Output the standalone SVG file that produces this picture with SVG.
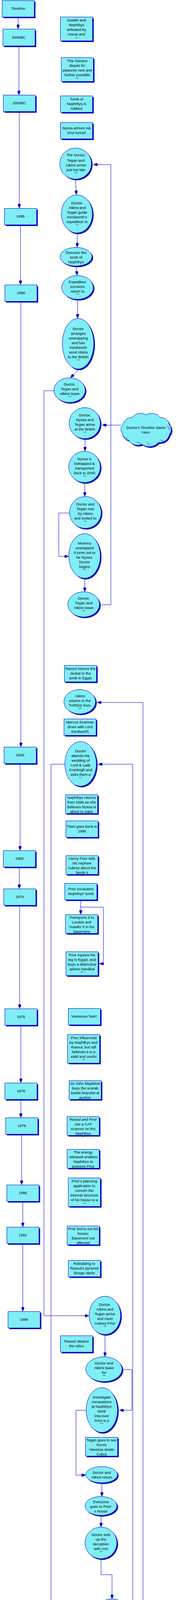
<svg xmlns="http://www.w3.org/2000/svg" width="460" height="4813" viewBox="0 0 460 4813">
<style>
.box{fill:url(#dith);stroke:#0000CC;stroke-width:1}
.sh{fill:#0000B4}
.t{font-family:"Liberation Sans",Arial,sans-serif;font-size:9.5px;fill:#000;text-anchor:middle}
.d{font-weight:bold}
.c{fill:none;stroke:#0000CC;stroke-width:1;marker-end:url(#ah)}
.cr{fill:none;stroke:#0000CC;stroke-width:1}
</style>
<defs>
<pattern id="dith" width="2" height="2" patternUnits="userSpaceOnUse"><rect width="2" height="2" fill="#ffffff"/><rect width="1" height="1" fill="#00DDEE"/><rect x="1" y="1" width="1" height="1" fill="#00DDEE"/></pattern>
<marker id="ah" viewBox="0 0 11 7" refX="11" refY="3.5" markerWidth="11" markerHeight="7" markerUnits="userSpaceOnUse" orient="auto"><path d="M0,0 L4,0 L11,3.5 L4,7 L0,7 Z" fill="#0000CC"/></marker>
</defs>
<rect width="460" height="4813" fill="#ffffff"/>

<g id="connectors">
<path class="c" d="M46.3,43.5 V74"/>
<path class="c" d="M48.3,117.5 V243"/>
<path class="c" d="M49.3,285.5 V533"/>
<path class="c" d="M52.3,575.5 V729"/>
<path class="c" d="M53.3,771.5 V1912"/>
<path class="c" d="M51.3,1954.5 V2177"/>
<path class="c" d="M49.3,2219.5 V2275"/>
<path class="c" d="M50.3,2317.5 V2582"/>
<path class="c" d="M53.3,2624.5 V2772"/>
<path class="c" d="M53.3,2814.5 V2861"/>
<path class="c" d="M55.3,2903.5 V3033"/>
<path class="c" d="M58.3,3075.5 V3141"/>
<path class="c" d="M58.3,3183.5 V3357"/>
<path class="c" d="M193.3,461 L195,498.5"/>
<path class="c" d="M197.3,599 V633"/>
<path class="c" d="M194.3,684 L197.3,705"/>
<path class="c" d="M198.3,769 V815"/>
<path class="c" d="M200,947.5 L180,967"/>
<path class="c" d="M137.7,1000.3 H112.3 V3368.3 H227.5"/>
<path class="c" d="M258.7,1548.3 H283.3 V421.3 H238.5"/>
<path class="c" d="M309,1088.3 H261"/>
<path class="c" d="M217.3,1126 V1155"/>
<path class="c" d="M216.7,1238 V1271"/>
<path class="c" d="M177.7,1313.3 H150.3 V1424.3 H175.5"/>
<path class="c" d="M216.7,1483 V1515"/>
<path class="c" d="M356,4784.3 H365.3 V1798.3 H248.3"/>
<path class="c" d="M330,4126.3 H339.3 V1956.3 H250.7"/>
<path class="c" d="M165.7,1956.3 H130.3 V4225.3 H155.5"/>
<path class="c" d="M206.3,2303.5 V2341"/>
<path class="c" d="M206.3,2322.3 H264.3 V2467 H254"/>
<path class="c" d="M268.3,3419.3 V3473"/>
<path class="c" d="M315,3506 H337 V3610.3 H305"/>
<path class="c" d="M220,3610.3 H194.3 V3776.3 H219.3"/>
<path class="c" d="M260.3,3799 V3831"/>
<path class="c" d="M258.3,3882.3 V3909.3"/>
<path class="c" d="M258.3,3993.3 V4031.3 H286.3 V4093.3"/>
<path class="c" d="M196.3,4266.7 V4281.7 H248.3 V4299.3"/>
<path class="c" d="M249,4365.7 V4401.3"/>
<path class="c" d="M250.3,4484.7 V4515"/>
<path class="c" d="M252.3,4566 V4595.7"/>
<path class="c" d="M252.3,4638.3 V4671"/>
<path class="c" d="M252.3,4721.7 V4739.3 H312.3 V4759.3"/>
</g>

<!-- Timeline column -->
<g id="timeline"><rect class="sh" x="8.5" y="4.5" width="82" height="42"/><rect class="box" x="5.5" y="1.5" width="82" height="42"/><text class="t" x="46.5" y="25">Timeline</text></g>
<g id="y5000bc"><rect class="sh" x="10.5" y="77.5" width="82" height="43"/><rect class="box" x="7.5" y="74.5" width="82" height="43"/><text class="t" x="48.5" y="99">5000BC</text></g>
<g id="y2000bc"><rect class="sh" x="11.5" y="246.5" width="82" height="42"/><rect class="box" x="8.5" y="243.5" width="82" height="42"/><text class="t" x="49.5" y="267">2000BC</text></g>
<g id="y1895"><rect class="sh" x="14.5" y="536.5" width="82" height="42"/><rect class="box" x="11.5" y="533.5" width="82" height="42"/><text class="t" x="52.5" y="556.6">1895</text></g>
<g id="y1896"><rect class="sh" x="15.5" y="732.5" width="82" height="42"/><rect class="box" x="12.5" y="729.5" width="82" height="42"/><text class="t" x="53.5" y="752.6">1896</text></g>
<g id="y1926"><rect class="sh" x="13.5" y="1915.5" width="82" height="42"/><rect class="box" x="10.5" y="1912.5" width="82" height="42"/><text class="t" x="51.5" y="1935.6">1926</text></g>
<g id="y1960"><rect class="sh" x="11.5" y="2180.5" width="82" height="42"/><rect class="box" x="8.5" y="2177.5" width="82" height="42"/><text class="t" x="49.5" y="2201">1960</text></g>
<g id="y1974"><rect class="sh" x="12.5" y="2278.5" width="82" height="42"/><rect class="box" x="9.5" y="2275.5" width="82" height="42"/><text class="t" x="50.5" y="2299">1974</text></g>
<g id="y1975"><rect class="sh" x="15.5" y="2585.5" width="82" height="42"/><rect class="box" x="12.5" y="2582.5" width="82" height="42"/><text class="t" x="53.5" y="2605.6">1975</text></g>
<g id="y1978"><rect class="sh" x="15.5" y="2775.5" width="82" height="42"/><rect class="box" x="12.5" y="2772.5" width="82" height="42"/><text class="t" x="53.5" y="2795.6">1978</text></g>
<g id="y1979"><rect class="sh" x="17.5" y="2864.5" width="82" height="42"/><rect class="box" x="14.5" y="2861.5" width="82" height="42"/><text class="t" x="55.5" y="2885">1979</text></g>
<g id="y1986"><rect class="sh" x="20.5" y="3036.5" width="82" height="42"/><rect class="box" x="17.5" y="3033.5" width="82" height="42"/><text class="t" x="58.5" y="3056.6">1986</text></g>
<g id="y1991"><rect class="sh" x="20.5" y="3144.5" width="82" height="42"/><rect class="box" x="17.5" y="3141.5" width="82" height="42"/><text class="t" x="58.5" y="3165">1991</text></g>
<g id="y1996"><rect class="sh" x="23.5" y="3360.5" width="82" height="42"/><rect class="box" x="20.5" y="3357.5" width="82" height="42"/><text class="t" x="61.5" y="3380.6">1996</text></g>

<!-- Event boxes -->
<g id="b1"><rect class="sh" x="157.5" y="46.5" width="82" height="61"/><rect class="box" x="154.5" y="43.5" width="82" height="61"/><text class="t"><tspan x="195.5" y="55">Sutekh and</tspan><tspan x="195.5" y="67">Nephthys</tspan><tspan x="195.5" y="79">defeated by</tspan><tspan x="195.5" y="91">Horus and</tspan><tspan class="d" x="195.5" y="96.5">...</tspan></text></g>
<g id="b2"><rect class="sh" x="159.5" y="150.5" width="82" height="61"/><rect class="box" x="156.5" y="147.5" width="82" height="61"/><text class="t"><tspan x="197.5" y="159">The Osirans</tspan><tspan x="197.5" y="171">depart for</tspan><tspan x="197.5" y="183">pastures new and</tspan><tspan x="197.5" y="195">further possible</tspan><tspan class="d" x="197.5" y="200.5">...</tspan></text></g>
<g id="b3"><rect class="sh" x="157.5" y="248.5" width="82" height="42"/><rect class="box" x="154.5" y="245.5" width="82" height="42"/><text class="t"><tspan x="195.5" y="257">Tomb of</tspan><tspan x="195.5" y="269">Nephthys is</tspan><tspan x="195.5" y="281">robbed</tspan></text></g>
<g id="b4"><rect class="sh" x="157.5" y="316.5" width="82" height="42"/><rect class="box" x="154.5" y="313.5" width="82" height="42"/><text class="t"><tspan x="195.5" y="331">Nyssa arrives via</tspan><tspan x="195.5" y="343">time tunnel</tspan></text></g>
<g id="b5"><rect class="sh" x="167.5" y="1706.5" width="82" height="42"/><rect class="box" x="164.5" y="1703.5" width="82" height="42"/><text class="t"><tspan x="205.5" y="1715">Rassul returns the</tspan><tspan x="205.5" y="1727">Jackal to the</tspan><tspan x="205.5" y="1739">tomb in Egypt</tspan></text></g>
<g id="b6"><rect class="sh" x="166.5" y="1843.5" width="82" height="42"/><rect class="box" x="163.5" y="1840.5" width="82" height="42"/><text class="t"><tspan x="204.5" y="1852">Marcus Scarman</tspan><tspan x="204.5" y="1864">dines with Lord</tspan><tspan x="204.5" y="1876">Kenilworth</tspan></text></g>
<g id="b7"><rect class="sh" x="170.5" y="2037.5" width="82" height="48"/><rect class="box" x="167.5" y="2034.5" width="82" height="48"/><text class="t"><tspan x="208.5" y="2045">Nephthys returns</tspan><tspan x="208.5" y="2057">from 1996 as she</tspan><tspan x="208.5" y="2069">believes Nyssa is</tspan><tspan x="208.5" y="2081">about to wake</tspan></text></g>
<g id="b8"><rect class="sh" x="171.5" y="2104.5" width="82" height="42"/><rect class="box" x="168.5" y="2101.5" width="82" height="42"/><text class="t"><tspan x="209.5" y="2119">Then goes back to</tspan><tspan x="209.5" y="2130.6">1996</tspan></text></g>
<g id="b9"><rect class="sh" x="171.5" y="2193.5" width="82" height="48"/><rect class="box" x="168.5" y="2190.5" width="82" height="48"/><text class="t"><tspan x="209.5" y="2201">Henry Prior tells</tspan><tspan x="209.5" y="2213">his nephew</tspan><tspan x="209.5" y="2225">Aubrey about the</tspan><tspan x="209.5" y="2237">family's</tspan><tspan class="d" x="209.5" y="2241.8">...</tspan></text></g>
<g id="b10"><rect class="sh" x="168.5" y="2264.5" width="82" height="42"/><rect class="box" x="165.5" y="2261.5" width="82" height="42"/><text class="t"><tspan x="206.5" y="2279">Prior excavates</tspan><tspan x="206.5" y="2290.6">Nephthys' tomb</tspan></text></g>
<g id="b11"><rect class="sh" x="170.5" y="2344.5" width="82" height="48"/><rect class="box" x="167.5" y="2341.5" width="82" height="48"/><text class="t"><tspan x="208.5" y="2352">Transports it to</tspan><tspan x="208.5" y="2364">London and</tspan><tspan x="208.5" y="2376">'installs' it in his</tspan><tspan x="208.5" y="2388">basement</tspan></text></g>
<g id="b12"><rect class="sh" x="171.5" y="2439.5" width="82" height="61"/><rect class="box" x="168.5" y="2436.5" width="82" height="61"/><text class="t"><tspan x="209.5" y="2448">Prior injuries his</tspan><tspan x="209.5" y="2460">leg in Egypt, and</tspan><tspan x="209.5" y="2472">buys a distinctive</tspan><tspan x="209.5" y="2484">sphinx-handled</tspan><tspan class="d" x="209.5" y="2489.2">...</tspan></text></g>
<g id="b13"><rect class="sh" x="177.5" y="2584.5" width="82" height="42"/><rect class="box" x="174.5" y="2581.5" width="82" height="42"/><text class="t" x="215.5" y="2605">Vasnessa 'born'</text></g>
<g id="b14"><rect class="sh" x="175.5" y="2651.5" width="82" height="73"/><rect class="box" x="172.5" y="2648.5" width="82" height="73"/><text class="t"><tspan x="213.5" y="2660">Prior influenced</tspan><tspan x="213.5" y="2672">by Nephthys and</tspan><tspan x="213.5" y="2684">Rassul, but still</tspan><tspan x="213.5" y="2696">believes it is a</tspan><tspan x="213.5" y="2708">valid and useful</tspan><tspan class="d" x="213.5" y="2713.2">...</tspan></text></g>
<g id="b15"><rect class="sh" x="179.5" y="2769.5" width="82" height="48"/><rect class="box" x="176.5" y="2766.5" width="82" height="48"/><text class="t"><tspan x="217.5" y="2777">Sir John Mapleton</tspan><tspan x="217.5" y="2789">buys the scarab</tspan><tspan x="217.5" y="2801">beetle bracelet at</tspan><tspan x="217.5" y="2813">auction</tspan></text></g>
<g id="b16"><rect class="sh" x="174.5" y="2861.5" width="82" height="48"/><rect class="box" x="171.5" y="2858.5" width="82" height="48"/><text class="t"><tspan x="212.5" y="2869">Rassul and Prior</tspan><tspan x="212.5" y="2881">use a CAT</tspan><tspan x="212.5" y="2893">scanner on the</tspan><tspan x="212.5" y="2905">Nephthys</tspan><tspan class="d" x="212.5" y="2910.2">...</tspan></text></g>
<g id="b17"><rect class="sh" x="174.5" y="2945.5" width="82" height="48"/><rect class="box" x="171.5" y="2942.5" width="82" height="48"/><text class="t"><tspan x="212.5" y="2953.3">The energy</tspan><tspan x="212.5" y="2965">released enables</tspan><tspan x="212.5" y="2977">Nephthys to</tspan><tspan x="212.5" y="2989">possess Prior</tspan></text></g>
<g id="b18"><rect class="sh" x="177.5" y="3018.5" width="82" height="73"/><rect class="box" x="174.5" y="3015.5" width="82" height="73"/><text class="t"><tspan x="215.5" y="3027.3">Prior's planning</tspan><tspan x="215.5" y="3039.3">application to</tspan><tspan x="215.5" y="3051.3">convert the</tspan><tspan x="215.5" y="3063.3">internal structure</tspan><tspan x="215.5" y="3075.3">of his house to a</tspan><tspan class="d" x="215.5" y="3080.5">...</tspan></text></g>
<g id="b19"><rect class="sh" x="174.5" y="3141.5" width="82" height="48"/><rect class="box" x="171.5" y="3138.5" width="82" height="48"/><text class="t"><tspan x="212.5" y="3149">Prior burns out his</tspan><tspan x="212.5" y="3161">house;</tspan><tspan x="212.5" y="3173">Basement not</tspan><tspan x="212.5" y="3185">affected</tspan></text></g>
<g id="b20"><rect class="sh" x="177.5" y="3229.5" width="82" height="42"/><rect class="box" x="174.5" y="3226.5" width="82" height="42"/><text class="t"><tspan x="215.5" y="3238">Rebuilding to</tspan><tspan x="215.5" y="3250">Rassul's pyramid</tspan><tspan x="215.5" y="3262">design starts</tspan></text></g>
<g id="b21"><rect class="sh" x="157.5" y="3422.5" width="82" height="42"/><rect class="box" x="154.5" y="3419.5" width="82" height="42"/><text class="t"><tspan x="195.5" y="3437">Rassul obtains</tspan><tspan x="195.5" y="3449">the relics</tspan></text></g>
<g id="b22"><rect class="sh" x="221.5" y="3682.5" width="82" height="48"/><rect class="box" x="218.5" y="3679.5" width="82" height="48"/><text class="t"><tspan x="259.5" y="3690.3">Tegan goes to see</tspan><tspan x="259.5" y="3702">Norris</tspan><tspan x="259.5" y="3714">Vanessa steals</tspan><tspan x="259.5" y="3726">Cobra</tspan></text></g>

<!-- Cloud -->
<g id="cloud">
<path class="sh" transform="translate(3,3)" d="M314.3,1087 A22,22 0 0 1 337.3,1068.9 A28,28 0 0 1 373.5,1062 A28,28 0 0 1 409.7,1068.9 A22,22 0 0 1 432.7,1087 A20,20 0 0 1 432.7,1113 A26,26 0 0 1 405,1132.9 A32,32 0 0 1 362.6,1137.4 A26,26 0 0 1 329,1126.9 A18,18 0 0 1 312.6,1109.8 A17,17 0 0 1 314.3,1087 Z"/>
<path class="box" d="M314.3,1087 A22,22 0 0 1 337.3,1068.9 A28,28 0 0 1 373.5,1062 A28,28 0 0 1 409.7,1068.9 A22,22 0 0 1 432.7,1087 A20,20 0 0 1 432.7,1113 A26,26 0 0 1 405,1132.9 A32,32 0 0 1 362.6,1137.4 A26,26 0 0 1 329,1126.9 A18,18 0 0 1 312.6,1109.8 A17,17 0 0 1 314.3,1087 Z"/>
<path class="cr" d="M314,1117 Q320,1121 325,1123 M350,1131 Q356,1134 360,1137 M376,1132 Q380,1136 381,1140 M410,1126 Q417,1130 423,1131 M427,1090 Q431,1094 433,1100"/>
<text class="t"><tspan x="372.7" y="1098">Doctor's Timeline Starts</tspan><tspan x="372.7" y="1110">Here</tspan></text>
</g>

<!-- Ellipses -->
<g id="e1"><ellipse class="sh" cx="196.2" cy="421.8" rx="40.5" ry="39.8"/><ellipse class="box" cx="193.2" cy="418.8" rx="40.5" ry="39.8"/><text class="t"><tspan x="194" y="400">The Doctor,</tspan><tspan x="194" y="414">Tegan and</tspan><tspan x="194" y="426">Atkins arrive</tspan><tspan x="194" y="438">just too late</tspan><tspan class="d" x="194" y="443.2">...</tspan></text></g>
<g id="e2"><ellipse class="sh" cx="199.5" cy="550.7" rx="39.8" ry="48.7"/><ellipse class="box" cx="196.5" cy="547.7" rx="39.8" ry="48.7"/><text class="t"><tspan x="197" y="522.6">Doctor,</tspan><tspan x="197" y="534.6">Atkins and</tspan><tspan x="197" y="546.6">Tegan guide</tspan><tspan x="197" y="558.6">Kenilworth's</tspan><tspan x="197" y="570.6">expedition to</tspan><tspan class="d" x="197" y="575.5">...</tspan></text></g>
<g id="e3"><ellipse class="sh" cx="197.2" cy="660.2" rx="40.8" ry="23.8"/><ellipse class="box" cx="194.2" cy="657.2" rx="40.8" ry="23.8"/><text class="t"><tspan x="194.5" y="650">Discover the</tspan><tspan x="194.5" y="662">tomb of</tspan><tspan x="194.5" y="674">Nephthys</tspan></text></g>
<g id="e4"><ellipse class="sh" cx="201" cy="738.8" rx="40.3" ry="30.5"/><ellipse class="box" cx="198" cy="735.8" rx="40.3" ry="30.5"/><text class="t"><tspan x="198" y="725">Expedition</tspan><tspan x="198" y="737">survivors</tspan><tspan x="198" y="749">return to</tspan><tspan class="d" x="198" y="754.2">...</tspan></text></g>
<g id="e5"><ellipse class="sh" cx="202.5" cy="882.8" rx="40.2" ry="64.8"/><ellipse class="box" cx="199.5" cy="879.8" rx="40.2" ry="64.8"/><text class="t"><tspan x="200" y="845">Doctor</tspan><tspan x="200" y="857">arranges</tspan><tspan x="200" y="869">unwrapping</tspan><tspan x="200" y="881">and has</tspan><tspan x="200" y="893">Kenilworth</tspan><tspan x="200" y="905">send Atkins</tspan><tspan x="200" y="917">to the British</tspan><tspan class="d" x="200" y="922.2">...</tspan></text></g>
<g id="e6"><ellipse class="sh" cx="180.7" cy="1001.8" rx="40" ry="31.5"/><ellipse class="box" cx="177.7" cy="998.8" rx="40" ry="31.5"/><text class="t"><tspan x="178" y="987">Doctor,</tspan><tspan x="178" y="999">Tegan and</tspan><tspan x="178" y="1011">Atkins leave</tspan><tspan class="d" x="178" y="1016.2">...</tspan></text></g>
<g id="e7"><ellipse class="sh" cx="219.5" cy="1086.2" rx="39.8" ry="39.8"/><ellipse class="box" cx="216.5" cy="1083.2" rx="39.8" ry="39.8"/><text class="t"><tspan x="217" y="1066">Doctor,</tspan><tspan x="217" y="1078">Nyssa and</tspan><tspan x="217" y="1090">Tegan arrive</tspan><tspan x="217" y="1102">at the British</tspan><tspan class="d" x="217" y="1107.2">...</tspan></text></g>
<g id="e8"><ellipse class="sh" cx="219" cy="1198.3" rx="40.3" ry="40"/><ellipse class="box" cx="216" cy="1195.3" rx="40.3" ry="40"/><text class="t"><tspan x="216" y="1178.3">Nyssa is</tspan><tspan x="216" y="1190.3">kidnapped &amp;</tspan><tspan x="216" y="1202.3">transported</tspan><tspan x="216" y="1214.3">back to 2000</tspan><tspan class="d" x="216" y="1219.2">...</tspan></text></g>
<g id="e9"><ellipse class="sh" cx="221.2" cy="1314.8" rx="40.5" ry="40.8"/><ellipse class="box" cx="218.2" cy="1311.8" rx="40.5" ry="40.8"/><text class="t"><tspan x="218" y="1294">Doctor and</tspan><tspan x="218" y="1306">Tegan met</tspan><tspan x="218" y="1318">by Atkins</tspan><tspan x="218" y="1330">and invited to</tspan><tspan class="d" x="218" y="1335.2">...</tspan></text></g>
<g id="e10"><ellipse class="sh" cx="219" cy="1426.2" rx="40.3" ry="57.2"/><ellipse class="box" cx="216" cy="1423.2" rx="40.3" ry="57.2"/><text class="t"><tspan x="216" y="1394">Mummy</tspan><tspan x="216" y="1406">unwrapped</tspan><tspan x="216" y="1418">It turns out to</tspan><tspan x="216" y="1430">be Nyssa.</tspan><tspan x="216" y="1442">Doctor</tspan><tspan x="216" y="1454">begins</tspan><tspan class="d" x="216" y="1459.2">...</tspan></text></g>
<g id="e11"><ellipse class="sh" cx="216.8" cy="1550.2" rx="40.5" ry="32.2"/><ellipse class="box" cx="213.8" cy="1547.2" rx="40.5" ry="32.2"/><text class="t"><tspan x="214" y="1535">Doctor,</tspan><tspan x="214" y="1547">Tegan and</tspan><tspan x="214" y="1559">Atkins leave</tspan><tspan class="d" x="214" y="1564.2">...</tspan></text></g>
<g id="e12"><ellipse class="sh" cx="206.8" cy="1799.5" rx="40.5" ry="31.2"/><ellipse class="box" cx="203.8" cy="1796.5" rx="40.5" ry="31.2"/><text class="t"><tspan x="204" y="1785">Atkins</tspan><tspan x="204" y="1797">returns in the</tspan><tspan x="204" y="1809">TARDIS from</tspan><tspan class="d" x="204" y="1814.2">...</tspan></text></g>
<g id="e13"><ellipse class="sh" cx="209" cy="1958.5" rx="40.3" ry="57.2"/><ellipse class="box" cx="206" cy="1955.5" rx="40.3" ry="57.2"/><text class="t"><tspan x="206" y="1926">Doctor</tspan><tspan x="206" y="1938">attends the</tspan><tspan x="206" y="1950">wedding of</tspan><tspan x="206" y="1962">Lord &amp; Lady</tspan><tspan x="206" y="1974">Cranleigh and</tspan><tspan x="206" y="1986">asks them a</tspan><tspan class="d" x="206" y="1991.2">...</tspan></text></g>
<g id="e14"><ellipse class="sh" cx="271" cy="3370.3" rx="40.3" ry="49"/><ellipse class="box" cx="268" cy="3367.3" rx="40.3" ry="49"/><text class="t"><tspan x="268" y="3343">Doctor,</tspan><tspan x="268" y="3355">Atkins and</tspan><tspan x="268" y="3367">Tegan arrive</tspan><tspan x="268" y="3379">and meet</tspan><tspan x="268" y="3391">Aubrey Prior</tspan><tspan class="d" x="268" y="3396.2">...</tspan></text></g>
<g id="e15"><ellipse class="sh" cx="268.7" cy="3508.2" rx="46.3" ry="31.8"/><ellipse class="box" cx="265.7" cy="3505.2" rx="46.3" ry="31.8"/><text class="t"><tspan x="266" y="3493">Doctor and</tspan><tspan x="266" y="3505">Atkins leave</tspan><tspan x="266" y="3517">for</tspan><tspan class="d" x="266" y="3522.2">...</tspan></text></g>
<g id="e16"><ellipse class="sh" cx="263.2" cy="3612.7" rx="40.2" ry="57.3"/><ellipse class="box" cx="260.2" cy="3609.7" rx="40.2" ry="57.3"/><text class="t"><tspan x="260" y="3580">Investigate</tspan><tspan x="260" y="3592">excavations</tspan><tspan x="260" y="3604">at Nephthys'</tspan><tspan x="260" y="3616">tomb</tspan><tspan x="260" y="3628">Discover</tspan><tspan x="260" y="3640">Prior is a</tspan><tspan class="d" x="260" y="3645.2">...</tspan></text></g>
<g id="e17"><ellipse class="sh" cx="262.8" cy="3778.2" rx="40.5" ry="20.8"/><ellipse class="box" cx="259.8" cy="3775.2" rx="40.5" ry="20.8"/><text class="t"><tspan x="260" y="3773">Doctor and</tspan><tspan x="260" y="3785">Atkins return</tspan></text></g>
<g id="e18"><ellipse class="sh" cx="261" cy="3858.2" rx="40.7" ry="24.2"/><ellipse class="box" cx="258" cy="3855.2" rx="40.7" ry="24.2"/><text class="t"><tspan x="258" y="3848">Everyone</tspan><tspan x="258" y="3860">goes to Prior'</tspan><tspan x="258" y="3872">s house</tspan></text></g>
<g id="e19"><ellipse class="sh" cx="261" cy="3952.8" rx="40.7" ry="40.5"/><ellipse class="box" cx="258" cy="3949.8" rx="40.7" ry="40.5"/><text class="t"><tspan x="258" y="3932">Doctor sets</tspan><tspan x="258" y="3944">up the</tspan><tspan x="258" y="3956">deception</tspan><tspan x="258" y="3968">with Ann</tspan><tspan class="d" x="258" y="3973.2">...</tspan></text></g>
<g id="e20"><ellipse class="sh" cx="289" cy="4128.5" rx="40.3" ry="32.2"/><ellipse class="box" cx="286" cy="4125.5" rx="40.3" ry="32.2"/><text class="t"><tspan x="286" y="4113">Doctor goes</tspan><tspan x="286" y="4125">back to 1926</tspan><tspan x="286" y="4137">to see the</tspan><tspan class="d" x="286" y="4142.2">...</tspan></text></g>
<g id="e21"><ellipse class="sh" cx="198.8" cy="4226.5" rx="40.2" ry="40.2"/><ellipse class="box" cx="195.8" cy="4223.5" rx="40.2" ry="40.2"/><text class="t"><tspan x="196" y="4206">Doctor</tspan><tspan x="196" y="4218">comes back</tspan><tspan x="196" y="4230">to 1996 and</tspan><tspan x="196" y="4242">contacts Ann</tspan><tspan class="d" x="196" y="4247.2">...</tspan></text></g>
<g id="e22"><ellipse class="sh" cx="251.2" cy="4334" rx="45.5" ry="31.7"/><ellipse class="box" cx="248.2" cy="4331" rx="45.5" ry="31.7"/><text class="t"><tspan x="248" y="4319">Final</tspan><tspan x="248" y="4331">confrontation</tspan><tspan x="248" y="4343">in Prior's</tspan><tspan class="d" x="248" y="4348.2">...</tspan></text></g>
<g id="e23"><ellipse class="sh" cx="252.8" cy="4444.5" rx="40.5" ry="40.2"/><ellipse class="box" cx="249.8" cy="4441.5" rx="40.5" ry="40.2"/><text class="t"><tspan x="250" y="4424">Nephthys</tspan><tspan x="250" y="4436">goes back to</tspan><tspan x="250" y="4448">1926</tspan><tspan x="250" y="4460">Then returns</tspan><tspan class="d" x="250" y="4465.2">...</tspan></text></g>
<g id="e24"><ellipse class="sh" cx="254.8" cy="4542" rx="40.5" ry="24"/><ellipse class="box" cx="251.8" cy="4539" rx="40.5" ry="24"/><text class="t"><tspan x="252" y="4532">She keeps</tspan><tspan x="252" y="4544">looping till</tspan><tspan x="252" y="4556">she dies...</tspan></text></g>
<g id="e25"><ellipse class="sh" cx="254.8" cy="4618.5" rx="40.5" ry="19.8"/><ellipse class="box" cx="251.8" cy="4615.5" rx="40.5" ry="19.8"/><text class="t"><tspan x="252" y="4613">Nyssa wakes</tspan><tspan x="252" y="4625">up in TARDIS</tspan></text></g>
<g id="e26"><ellipse class="sh" cx="254.8" cy="4697.8" rx="40.5" ry="23.8"/><ellipse class="box" cx="251.8" cy="4694.8" rx="40.5" ry="23.8"/><text class="t"><tspan x="252" y="4688">Doctor buries</tspan><tspan x="252" y="4700">the canopic</tspan><tspan x="252" y="4712">jar</tspan></text></g>
<g id="e27"><ellipse class="sh" cx="315" cy="4785.8" rx="40.3" ry="23.5"/><ellipse class="box" cx="312" cy="4782.8" rx="40.3" ry="23.5"/><text class="t"><tspan x="312" y="4776">Atkins is</tspan><tspan x="312" y="4788">returned to</tspan><tspan x="312" y="4800">1896</tspan></text></g>
</svg>
